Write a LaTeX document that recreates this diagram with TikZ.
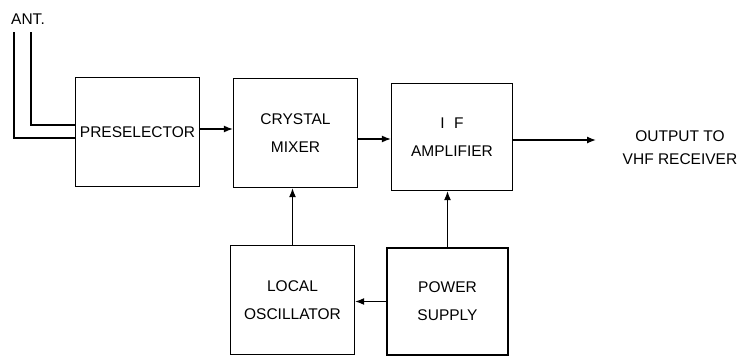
\documentclass[tikz,border=0pt]{standalone}
\usepackage{fontspec}
\setmainfont{Liberation Sans}
\usetikzlibrary{arrows.meta,positioning}

\begin{document}
\begin{tikzpicture}[
    >={Latex[length=9pt,width=7pt]},
    x=1pt,
    y=-1pt,
    line width=1.3pt,
    font=\fontsize{15.5}{20}\selectfont,
    blok/.style={draw, minimum width=124pt, minimum height=109pt,
        align=center, inner sep=2pt}
]

% Ramka obrazka
\useasboundingbox (0,0) rectangle (737,357);

% Bloki
\node[blok] (pre) at (137.5,132)
    {PRESELECTOR};

\node[blok] (mix) at (295.5,133)
    {CRYSTAL\\[8pt]MIXER};

\node[blok, minimum width=121pt, minimum height=107pt] (ifa) at (452,137)
    {I\,\, F\\[8pt]AMPLIFIER};

\node[blok] (lo) at (292.5,300)
    {LOCAL\\[8pt]OSCILLATOR};

\node[blok, minimum width=121pt, minimum height=107pt] (ps) at (447.5,301.5)
    {POWER\\[8pt]SUPPLY};

% Antena
\node (ant) at (28,19)
    {ANT.};

\coordinate (a1) at (14,32);
\coordinate (a2) at (31,32);

\draw
    (a1) |- ([yshift=-6pt]pre.west);

\draw
    (a2) |- ([yshift=7pt]pre.west);

% Tor sygnalu
\draw[->]
    ([yshift=3pt]pre.east) -- ([yshift=3pt]pre.east -| mix.west);

\draw[->]
    ([yshift=-6pt]mix.east) -- ([yshift=-6pt]mix.east -| ifa.west);

% Wyjscie
\coordinate (outend) at (596,140);

\draw[->]
    (ifa.east |- outend) -- (outend);

\node[align=center] (outlbl) at (680,148)
    {OUTPUT TO\\[3pt]VHF RECEIVER};

% Zasilanie i oscylator
\draw[->]
    (lo.north) -- (lo.north |- mix.south);

\draw[->]
    (ps.north) -- (ps.north |- ifa.south);

\draw[->]
    (ps.west) -- (ps.west -| lo.east);

\end{tikzpicture}
\end{document}
